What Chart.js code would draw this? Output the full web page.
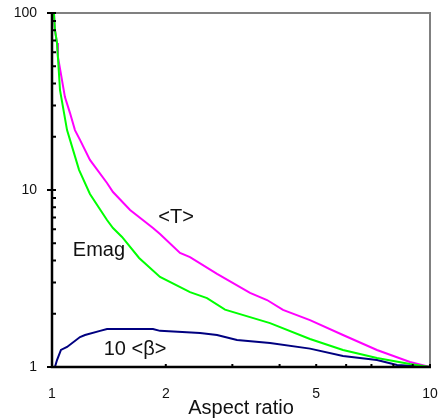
<!DOCTYPE html>
<html>
<head>
<meta charset="utf-8">
<script src="https://cdn.jsdelivr.net/npm/chart.js@4/dist/chart.umd.min.js"></script>
<style>
  html, body { margin: 0; padding: 0; background: #fff; }
  #wrap { width: 441px; height: 419px; }
</style>
</head>
<body>
<div id="wrap"><canvas id="myChart"></canvas></div>
<script>
// DATA (aspect ratio on x, log-log)
const ratioEmag = [1.012, 1.018, 1.031, 1.05, 1.096, 1.116, 1.179, 1.26, 1.398, 1.45, 1.532, 1.7, 1.931, 2.318, 2.571, 2.869, 3.774, 4.814, 5.886, 7.239, 8.853, 10];
const emag = [100, 80.2, 67.7, 36.7, 21.8, 19.2, 13.0, 9.5, 6.77, 6.1, 5.43, 4.13, 3.23, 2.65, 2.45, 2.11, 1.77, 1.44, 1.248, 1.124, 1.04, 1];

const ratioT = [1.012, 1.018, 1.031, 1.037, 1.082, 1.116, 1.15, 1.186, 1.26, 1.398, 1.45, 1.609, 1.85, 1.931, 2.181, 2.318, 2.733, 3.341, 3.706, 4.084, 4.814, 5.886, 7.239, 8.853, 10];
const tAvg = [100, 80.2, 67.7, 56.4, 33.5, 27.2, 21.8, 19.2, 14.8, 10.95, 9.74, 7.71, 6.1, 5.64, 4.41, 4.18, 3.36, 2.62, 2.39, 2.1, 1.84, 1.516, 1.248, 1.067, 1];

const ratioBeta = [1.018, 1.031, 1.056, 1.096, 1.186, 1.223, 1.34, 1.398, 1.85, 1.931, 2.464, 2.733, 3.086, 3.774, 4.814, 5.886, 7.239, 8.179, 10];
const beta10 = [1, 1.095, 1.248, 1.297, 1.477, 1.516, 1.6, 1.64, 1.64, 1.6, 1.556, 1.516, 1.42, 1.366, 1.27, 1.154, 1.095, 1.026, 1];

const xMinor = [1, 2, 3, 4, 5, 6, 7, 8, 9, 10];
const xLabels = [1, 2, 5, 10];
const yMinor = [2, 3, 4, 5, 6, 7, 8, 9, 20, 30, 40, 50, 60, 70, 80, 90];
const yLabels = [1, 10, 100];

// TEXT NEXT TO THE CURVES (in data units)
const curveNames = ["<T>", "Emag", "10 <\u03b2>"];
const nameX = [2.13, 1.331, 1.658];
const nameY = [6.95, 4.58, 1.264];

const FONT = "'Liberation Sans', Arial, sans-serif";

const toPoints = (xs, ys) => xs.map((x, i) => ({ x: x, y: ys[i] }));

// AXES FRAME, SMALL TICKS AND CURVE NAMES
const framePlugin = {
  id: "framePlugin",
  afterDatasetsDraw(chart) {
    const ctx = chart.ctx;
    const { left, right, top, bottom } = chart.chartArea;
    const xs = chart.scales.x;
    const ys = chart.scales.y;
    ctx.save();

    ctx.strokeStyle = "#808080";
    ctx.lineWidth = 2;
    ctx.beginPath();
    ctx.moveTo(left, top);
    ctx.lineTo(right, top);
    ctx.lineTo(right, bottom);
    ctx.stroke();

    ctx.strokeStyle = "#000";
    ctx.lineWidth = 2.5;
    ctx.beginPath();
    ctx.moveTo(left, top - 1);
    ctx.lineTo(left, bottom);
    ctx.lineTo(right + 1, bottom);
    ctx.stroke();

    ctx.lineWidth = 2;
    ctx.beginPath();
    yLabels.forEach((v) => {
      const py = ys.getPixelForValue(v);
      ctx.moveTo(left - 5, py);
      ctx.lineTo(left + 4, py);
    });
    yMinor.forEach((v) => {
      const py = ys.getPixelForValue(v);
      ctx.moveTo(left, py);
      ctx.lineTo(left + 4, py);
    });
    xMinor.forEach((v) => {
      const px = xs.getPixelForValue(v);
      ctx.moveTo(px, bottom);
      ctx.lineTo(px, bottom - 3);
    });
    ctx.stroke();

    ctx.fillStyle = "#111";
    ctx.font = "20px " + FONT;
    ctx.textAlign = "center";
    ctx.textBaseline = "middle";
    curveNames.forEach((name, i) => {
      ctx.fillText(name, xs.getPixelForValue(nameX[i]), ys.getPixelForValue(nameY[i]));
    });
    ctx.restore();
  },
};

const ctx = document.getElementById("myChart");
new Chart(ctx, {
  type: "line",
  data: {
    datasets: [
      {
        label: "Emag",
        data: toPoints(ratioEmag, emag),
        borderColor: "#00ff00",
        borderWidth: 2,
      },
      {
        label: "<T>",
        data: toPoints(ratioT, tAvg),
        borderColor: "#ff00ff",
        borderWidth: 2,
      },
      {
        label: "10 <beta>",
        data: toPoints(ratioBeta, beta10),
        borderColor: "#000080",
        borderWidth: 2,
      },
    ],
  },
  options: {
    responsive: true,
    maintainAspectRatio: false,
    animation: false,
    layout: { padding: { top: 13, right: 11, left: 0, bottom: 0 } },
    elements: { point: { radius: 0 }, line: { tension: 0 } },
    plugins: {
      legend: { display: false },
      tooltip: { enabled: false },
    },
    scales: {
      x: {
        type: "logarithmic",
        min: 1,
        max: 10,
        grid: { display: false, drawTicks: false },
        border: { display: false },
        afterBuildTicks: (scale) => {
          scale.ticks = xLabels.map((v) => ({ value: v }));
        },
        afterFit: (scale) => {
          scale.height = 52;
          scale.paddingLeft = 0;
          scale.paddingRight = 0;
        },
        ticks: {
          padding: 19,
          autoSkip: false,
          maxRotation: 0,
          color: "#111",
          font: { family: FONT, size: 14 },
          callback: (value) => String(value),
        },
        title: {
          display: true,
          text: "Aspect ratio",
          color: "#111",
          font: { family: FONT, size: 20 },
          padding: { top: 0, bottom: -1 },
        },
      },
      y: {
        type: "logarithmic",
        min: 1,
        max: 100,
        grid: { display: false, drawTicks: false },
        border: { display: false },
        afterBuildTicks: (scale) => {
          scale.ticks = yLabels.map((v) => ({ value: v }));
        },
        afterFit: (scale) => {
          scale.width = 52;
          scale.paddingTop = 0;
          scale.paddingBottom = 0;
        },
        ticks: {
          padding: 15,
          autoSkip: false,
          color: "#111",
          font: { family: FONT, size: 14 },
          callback: (value) => String(value),
        },
      },
    },
  },
  plugins: [framePlugin],
});
</script>
</body>
</html>
